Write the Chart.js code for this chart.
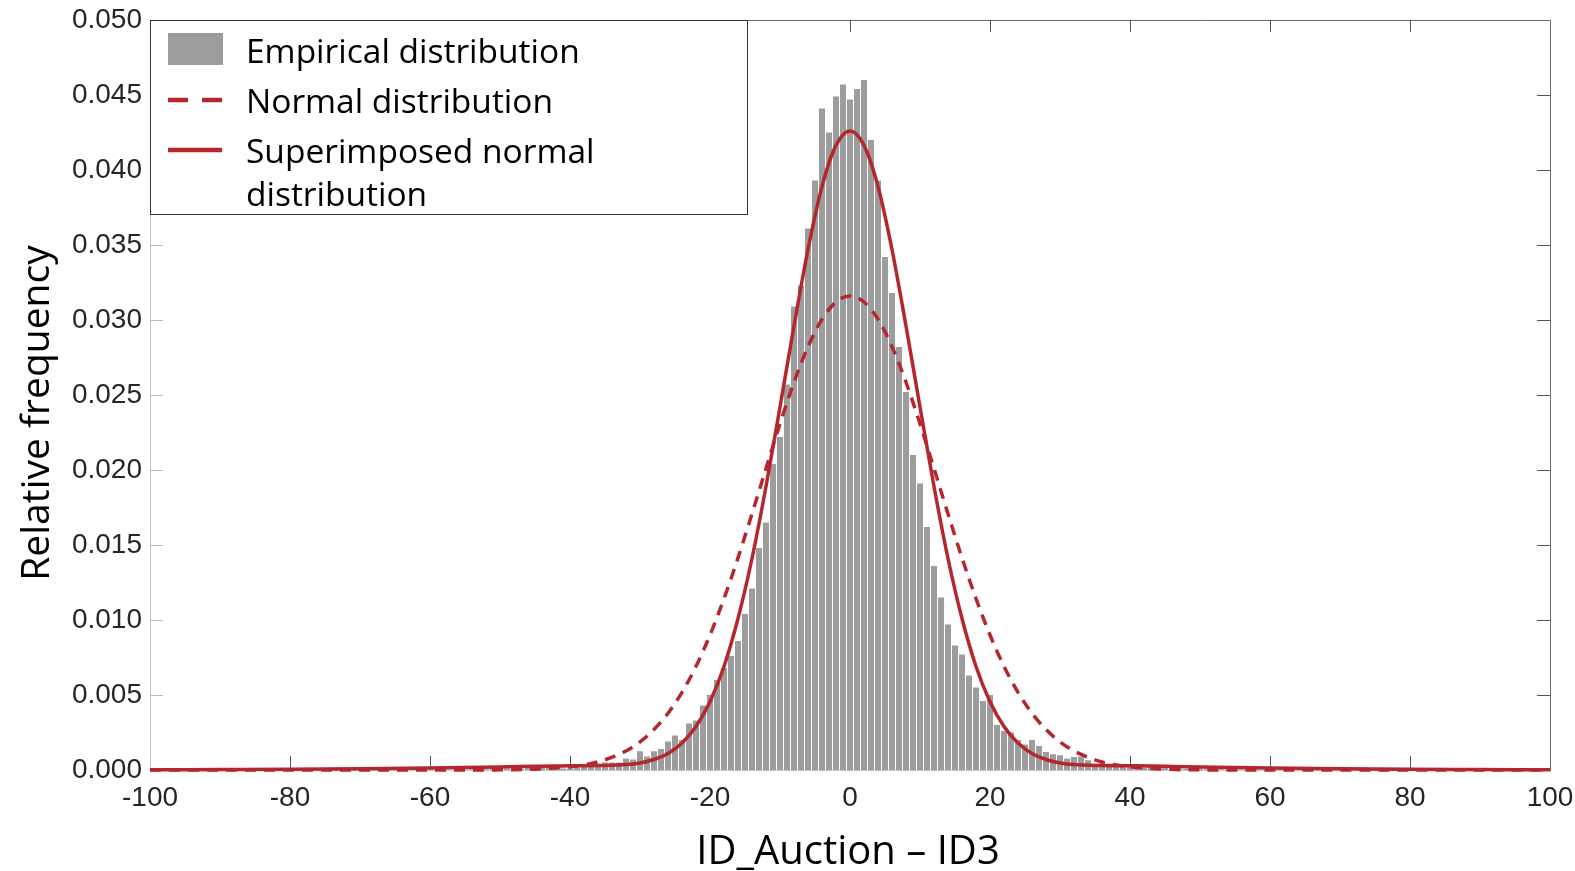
<!DOCTYPE html>
<html>
<head>
<meta charset="utf-8">
<script src="https://cdn.jsdelivr.net/npm/chart.js@4.4.1/dist/chart.umd.min.js"></script>
<style>
html, body { margin: 0; padding: 0; background: #fff; }
</style>
</head>
<body>
<canvas id="myChart" width="1575" height="871"></canvas>
<script>
// Histogram: bin centres run from binStart in steps of 1
const binStart = -60;
const relFreq = [
    0, 0, 0.00003, 0, 0.00005, 0.00003, 0.00005, 0.00008, 0.00005, 0.0001,
    0.00008, 0.0001, 0.00012, 0.0001, 0.00015, 0.00012, 0.00018, 0.0002, 0.00015,
    // -41 .. -16
    0.0001, 0.0001, 0.00013, 0.00027, 0.0004, 0.0004, 0.0005, 0.0005, 0.0005, 0.00076,
    0.0007, 0.00125, 0.0009, 0.00125, 0.0014, 0.0019, 0.0023, 0.0020, 0.0031, 0.0033,
    0.0043, 0.0050, 0.0060, 0.0068, 0.0076, 0.0086,
    // -15 .. -1
    0.0104, 0.0121, 0.0148, 0.0165, 0.0204, 0.0222, 0.0257, 0.0309, 0.0323, 0.0361,
    0.0393, 0.0441, 0.0425, 0.0449, 0.0457,
    // 0
    0.0447,
    // 1 .. 20
    0.0454, 0.0460, 0.0420, 0.0393, 0.0342, 0.0318, 0.0282, 0.0252, 0.0210, 0.0191,
    0.0162, 0.0136, 0.0115, 0.0097, 0.0083, 0.0077, 0.0063, 0.0055, 0.0046, 0.0050,
    // 21 .. 41
    0.0030, 0.0026, 0.0025, 0.0020, 0.0017, 0.0020, 0.0016, 0.0012, 0.00105, 0.00098,
    0.00076, 0.00087, 0.0009, 0.00065, 0.00042, 0.00049, 0.00042, 0.00027, 0.00018, 0.00027,
    0.0001,
    // 42 .. 60
    0.00015, 0.0002, 0.00012, 0.00015, 0.0001, 0.00012, 0.0001, 0.00008, 0.0001, 0.00005,
    0.00008, 0.00005, 0.00003, 0.00005, 0.00003, 0, 0.00003, 0, 0
];

const curveX = [-100, -90, -80, -70, -60, -50, -45, -40, -36, -32, -30, -28, -26, -24, -22, -20,
    -18, -16, -14, -12, -10, -8, -6, -4, -2, 0, 2, 4, 6, 8, 10, 12, 14, 16, 18,
    20, 22, 24, 26, 28, 30, 32, 36, 40, 45, 50, 60, 70, 80, 90, 100];
const normalY = [0, 0, 0, 0, 0, 0.00001, 0.000055, 0.00021, 0.00054, 0.00127, 0.00187, 0.0027, 0.00378, 0.00518, 0.00691, 0.0090,
    0.01143, 0.01414, 0.01708, 0.0201, 0.02308, 0.02585, 0.02822, 0.03005, 0.0312, 0.0316, 0.0312, 0.03005, 0.02822, 0.02585, 0.02308, 0.0201, 0.01708, 0.01414, 0.01143,
    0.0090, 0.00691, 0.00518, 0.00378, 0.0027, 0.00187, 0.00127, 0.00054, 0.00021, 0.000055, 0.00001, 0, 0, 0, 0, 0];
const superY = [0.00001, 0.00003, 0.00005, 0.00009, 0.00014, 0.0002, 0.00025, 0.00028, 0.0003, 0.00036, 0.00047, 0.0007, 0.0011, 0.0018, 0.0029, 0.00455,
    0.0069, 0.0101, 0.0141, 0.0189, 0.0242, 0.0296, 0.0347, 0.0389, 0.04164, 0.0426, 0.04164, 0.0389, 0.0347, 0.0296, 0.0242, 0.0189, 0.0141, 0.0101, 0.0069,
    0.00455, 0.0029, 0.0018, 0.0011, 0.0007, 0.00047, 0.00036, 0.0003, 0.00028, 0.00025, 0.0002, 0.00014, 0.00009, 0.00005, 0.00003, 0.00001];

const xTicks = [-100, -80, -60, -40, -20, 0, 20, 40, 60, 80, 100];
const legendLabels = ['Empirical distribution', 'Normal distribution', ['Superimposed normal', 'distribution']];

const RED = '#b3272d';
const GREY_BAR = '#9d9d9d';

const histData = relFreq.map((v, i) => ({ x: binStart + i, y: v }));
const normalData = curveX.map((x, i) => ({ x: x, y: normalY[i] }));
const superData = curveX.map((x, i) => ({ x: x, y: superY[i] }));

// Box frame with inward ticks on all four sides
const framePlugin = {
    id: 'frame',
    beforeDatasetsDraw(chart) {
        const ctx = chart.ctx;
        const { left, right, top, bottom } = chart.chartArea;
        const xs = chart.scales.x, ys = chart.scales.y;
        const seg = (x1, y1, x2, y2) => { ctx.beginPath(); ctx.moveTo(x1, y1); ctx.lineTo(x2, y2); ctx.stroke(); };
        ctx.save();
        ctx.lineWidth = 1;
        ctx.strokeStyle = '#c4c4c4';
        seg(left + 0.5, top, left + 0.5, bottom + 1);
        seg(left, bottom + 0.5, right, bottom + 0.5);
        ctx.strokeStyle = '#6e6e6e';
        seg(left, top + 0.5, right + 1, top + 0.5);
        seg(right + 0.5, top, right + 0.5, bottom + 1);
        // ticks
        ctx.strokeStyle = '#555';
        xTicks.slice(1, -1).forEach(v => {
            const px = Math.round(xs.getPixelForValue(v)) + 0.5;
            seg(px, bottom, px, bottom - 14);
            seg(px, top, px, top + 12);
        });
        ys.ticks.slice(1, -1).forEach(t => {
            const py = Math.round(ys.getPixelForValue(t.value)) + 0.5;
            seg(right, py, right - 13, py);
            ctx.strokeStyle = '#bbb';
            seg(left, py, left + 13, py);
            ctx.strokeStyle = '#555';
        });
        ctx.restore();
    },
    afterDatasetsDraw(chart) {
        const ctx = chart.ctx;
        ctx.save();
        // legend box
        ctx.fillStyle = '#fff';
        ctx.fillRect(150, 20, 597, 194);
        ctx.strokeStyle = '#333';
        ctx.lineWidth = 1;
        ctx.strokeRect(150.5, 20.5, 597, 194);
        ctx.fillStyle = GREY_BAR;
        ctx.fillRect(168, 33, 55, 32);
        ctx.strokeStyle = RED;
        ctx.lineWidth = 4.5;
        ctx.setLineDash([20, 14]);
        ctx.beginPath(); ctx.moveTo(168, 100); ctx.lineTo(222, 100); ctx.stroke();
        ctx.setLineDash([]);
        ctx.beginPath(); ctx.moveTo(168, 150); ctx.lineTo(222, 150); ctx.stroke();
        ctx.fillStyle = '#000';
        ctx.font = '33.5px "Open Sans"';
        ctx.textBaseline = 'middle';
        ctx.textAlign = 'left';
        ctx.fillText(legendLabels[0], 246, 53);
        ctx.fillText(legendLabels[1], 246, 103);
        ctx.fillText(legendLabels[2][0], 246, 153);
        ctx.fillText(legendLabels[2][1], 246, 196);
        // axis titles
        ctx.font = '40px "Open Sans"';
        ctx.textAlign = 'center';
        ctx.fillText('ID_Auction \u2013 ID3', 848, 853);
        ctx.translate(38, 413);
        ctx.rotate(-Math.PI / 2);
        ctx.font = '39px "Open Sans"';
        ctx.fillText('Relative frequency', 0, 0);
        ctx.restore();
    }
};

const config = {
    type: 'bar',
    data: {
        datasets: [{
            label: 'Superimposed normal distribution',
            type: 'line',
            data: superData,
            borderColor: RED,
            borderWidth: 3.5,
            pointRadius: 0,
            cubicInterpolationMode: 'monotone',
            clip: 5,
            order: 0
        }, {
            label: 'Normal distribution',
            type: 'line',
            data: normalData,
            borderColor: RED,
            borderWidth: 3.5,
            borderDash: [11, 8],
            pointRadius: 0,
            cubicInterpolationMode: 'monotone',
            clip: 5,
            order: 1
        }, {
            label: 'Empirical distribution',
            data: histData,
            backgroundColor: GREY_BAR,
            borderWidth: 0,
            barPercentage: 0.86,
            categoryPercentage: 1,
            order: 2
        }]
    },
    options: {
        responsive: false,
        animation: false,
        events: [],
        layout: {
            padding: { top: 20, right: 25, left: 0, bottom: 0 }
        },
        scales: {
            x: {
                type: 'linear',
                min: -100,
                max: 100,
                offset: false,
                grid: { display: false, drawTicks: false, offset: false },
                border: { display: false },
                afterBuildTicks: scale => { scale.ticks = xTicks.map(v => ({ value: v })); },
                afterFit: scale => { scale.height = 101; scale.paddingLeft = 0; scale.paddingRight = 0; },
                ticks: {
                    autoSkip: false,
                    maxRotation: 0,
                    padding: 11,
                    color: '#262626',
                    font: { family: '"Liberation Sans", Arial', size: 28 }
                }
            },
            y: {
                min: 0,
                max: 0.05,
                grid: { display: false, drawTicks: false },
                border: { display: false },
                afterFit: scale => { scale.width = 150; scale.paddingTop = 0; scale.paddingBottom = 0; },
                ticks: {
                    stepSize: 0.005,
                    padding: 8,
                    color: '#262626',
                    font: { family: '"Liberation Sans", Arial', size: 28 },
                    callback: v => v.toFixed(3)
                }
            }
        },
        plugins: {
            legend: { display: false },
            tooltip: { enabled: false }
        }
    },
    plugins: [framePlugin]
};

const context = document.getElementById('myChart').getContext('2d');
const myChart = new Chart(context, config);
</script>
</body>
</html>
